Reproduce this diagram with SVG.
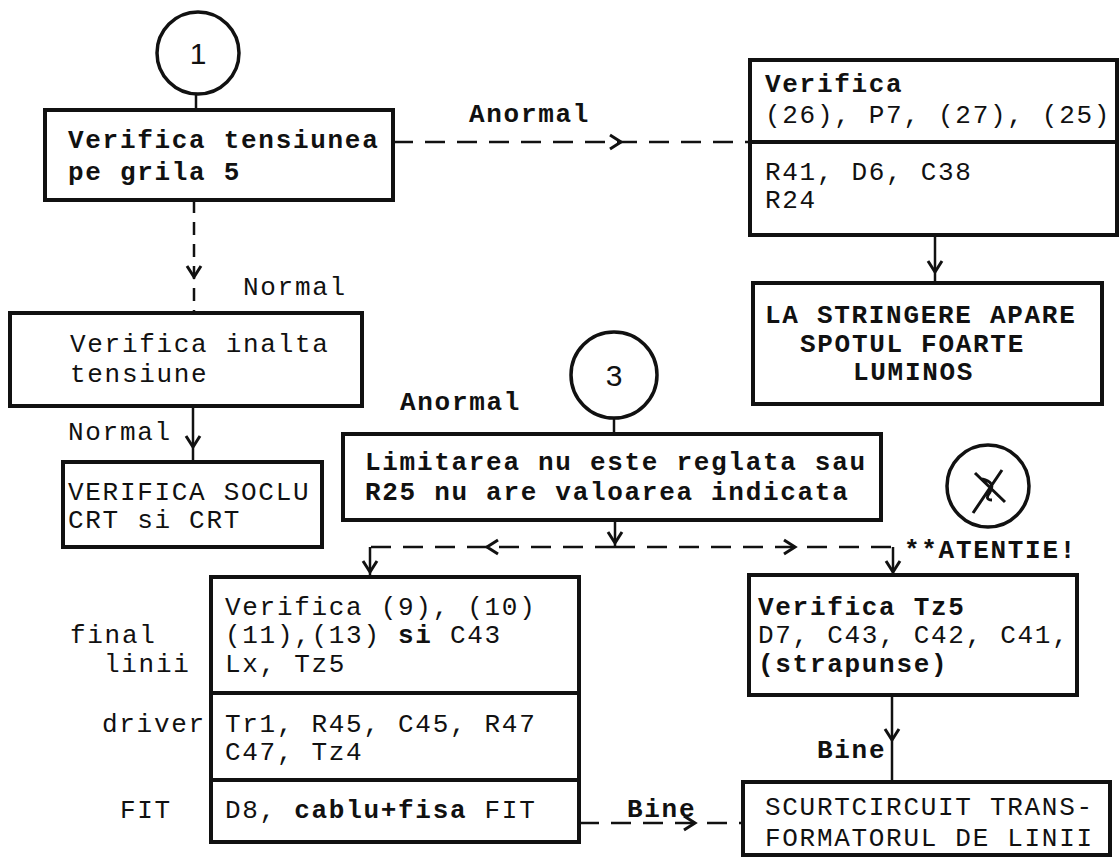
<svg xmlns="http://www.w3.org/2000/svg" width="1119" height="859" viewBox="0 0 1119 859">
  <style>
    .box { fill: #fff; stroke: #111; stroke-width: 4; }
    .ring { fill: #fff; stroke: #111; stroke-width: 3.5; }
    .div { stroke: #111; stroke-width: 4; }
    .t { font-family: "Liberation Mono", "Courier New", monospace; font-size: 26px; letter-spacing: 1.7px; fill: #111; }
    .b { font-weight: bold; }
    .num { font-family: "Liberation Sans", Arial, sans-serif; font-size: 30px; fill: #111; text-anchor: middle; }
    .solid { fill: none; stroke: #111; stroke-width: 2.5; }
    .dashv { fill: none; stroke: #111; stroke-width: 2.5; stroke-dasharray: 13 9; }
    .dashh { fill: none; stroke: #111; stroke-width: 2.5; stroke-dasharray: 20 12; }
    .arr { marker-mid: url(#chev); }
  </style>
  <defs>
    <marker id="chev" markerUnits="userSpaceOnUse" markerWidth="30" markerHeight="30" viewBox="-15 -15 30 30" refX="0" refY="0" orient="auto" overflow="visible">
      <path d="M -11 -7 L 0 0 L -11 7" fill="none" stroke="#111" stroke-width="3" stroke-dasharray="none"/>
    </marker>
  </defs>
  <rect width="1119" height="859" fill="#fff"/>

  <!-- connectors -->
  <g id="connectors">
    <path class="solid" d="M 196 94 L 196 110"/>
    <path class="dashv arr" d="M 194 200 L 194 277 L 194 313"/>
    <path class="solid arr" d="M 193 406 L 193 447 L 193 462"/>
    <path class="dashh arr" d="M 393 142 L 621 142 L 750 142"/>
    <path class="solid arr" d="M 935 235 L 935 272 L 935 283"/>
    <path class="solid" d="M 614 418 L 614 434"/>
    <path class="solid arr" d="M 615 520 L 615 543 L 615 547"/>
    <path class="dashh arr" d="M 615 547 L 487 547 L 370 547"/>
    <path class="dashh arr" d="M 615 547 L 795 547 L 893 547"/>
    <path class="solid arr" d="M 370 547 L 370 572 L 370 577"/>
    <path class="solid arr" d="M 893 547 L 893 572 L 893 575"/>
    <path class="solid arr" d="M 892 695 L 892 740 L 892 782"/>
    <path class="dashh arr" d="M 579 823 L 695 823 L 743 823"/>
  </g>

  <!-- edge labels -->
  <g id="labels">
    <text class="t" x="243" y="295">Normal</text>
    <text class="t" x="68" y="440">Normal</text>
    <text class="t b" x="469" y="122">Anormal</text>
    <text class="t b" x="400" y="410">Anormal</text>
    <text class="t b" x="817" y="758">Bine</text>
    <text class="t b" x="627" y="817">Bine</text>
    <text class="t b" x="904" y="558">**ATENTIE!</text>
    <text class="t" x="70" y="643">final</text>
    <text class="t" x="104" y="672">linii</text>
    <text class="t" x="102" y="732">driver</text>
    <text class="t" x="120" y="818">FIT</text>
  </g>

  <g id="start1">
    <circle class="ring" cx="198" cy="53" r="41"/>
    <text class="num" x="198" y="64">1</text>
  </g>

  <g id="grid-voltage">
    <rect class="box" x="45" y="110" width="348" height="90"/>
    <text class="t b" x="68" y="148">Verifica tensiunea</text>
    <text class="t b" x="68" y="180">pe grila 5</text>
  </g>

  <g id="high-voltage">
    <rect class="box" x="10" y="313" width="352" height="93"/>
    <text class="t" x="70" y="352">Verifica inalta</text>
    <text class="t" x="70" y="382">tensiune</text>
  </g>

  <g id="crt-socket">
    <rect class="box" x="63" y="462" width="259" height="85"/>
    <text class="t" x="68" y="500">VERIFICA SOCLU</text>
    <text class="t" x="68" y="528">CRT si CRT</text>
  </g>

  <g id="check-components">
    <rect class="box" x="750" y="60" width="367" height="175"/>
    <line class="div" x1="750" y1="142" x2="1117" y2="142"/>
    <text class="t b" x="765" y="92">Verifica</text>
    <text class="t" x="765" y="123">(26), P7, (27), (25)</text>
    <text class="t" x="765" y="180">R41, D6, C38</text>
    <text class="t" x="765" y="208">R24</text>
  </g>

  <g id="bright-spot">
    <rect class="box" x="753" y="283" width="349" height="121"/>
    <text class="t b" x="765" y="323">LA STRINGERE APARE</text>
    <text class="t b" x="800" y="352">SPOTUL FOARTE</text>
    <text class="t b" x="853" y="380">LUMINOS</text>
  </g>

  <g id="start3">
    <circle class="ring" cx="614" cy="375" r="43"/>
    <text class="num" x="614" y="386">3</text>
  </g>

  <g id="limit">
    <rect class="box" x="343" y="434" width="538" height="86"/>
    <text class="t b" x="365" y="470">Limitarea nu este reglata sau</text>
    <text class="t b" x="365" y="500">R25 nu are valoarea indicata</text>
  </g>

  <g id="crossed-mark">
    <circle class="ring" cx="988" cy="486" r="41"/>
    <path d="M 975 473 L 1005 502 M 1002 470 L 973 513 M 982 479 Q 996 482 990 492 Q 984 500 992 500" fill="none" stroke="#111" stroke-width="3"/>
  </g>

  <g id="line-stage">
    <rect class="box" x="211" y="577" width="368" height="265"/>
    <line class="div" x1="211" y1="693" x2="579" y2="693"/>
    <line class="div" x1="211" y1="780" x2="579" y2="780"/>
    <text class="t" x="225" y="615">Verifica (9), (10)</text>
    <text class="t" x="225" y="643">(11),(13) <tspan class="b">si</tspan> C43</text>
    <text class="t" x="225" y="672">Lx, Tz5</text>
    <text class="t" x="225" y="732">Tr1, R45, C45, R47</text>
    <text class="t" x="225" y="760">C47, Tz4</text>
    <text class="t" x="225" y="818">D8, <tspan class="b">cablu+fisa</tspan> FIT</text>
  </g>

  <g id="tz5">
    <rect class="box" x="749" y="575" width="328" height="120"/>
    <text class="t b" x="758" y="615">Verifica Tz5</text>
    <text class="t" x="758" y="643">D7, C43, C42, C41,</text>
    <text class="t b" x="758" y="672">(strapunse)</text>
  </g>

  <g id="transformer">
    <rect class="box" x="743" y="782" width="367" height="73"/>
    <text class="t" x="765" y="815">SCURTCIRCUIT TRANS-</text>
    <text class="t" x="765" y="846">FORMATORUL DE LINII</text>
  </g>
</svg>
